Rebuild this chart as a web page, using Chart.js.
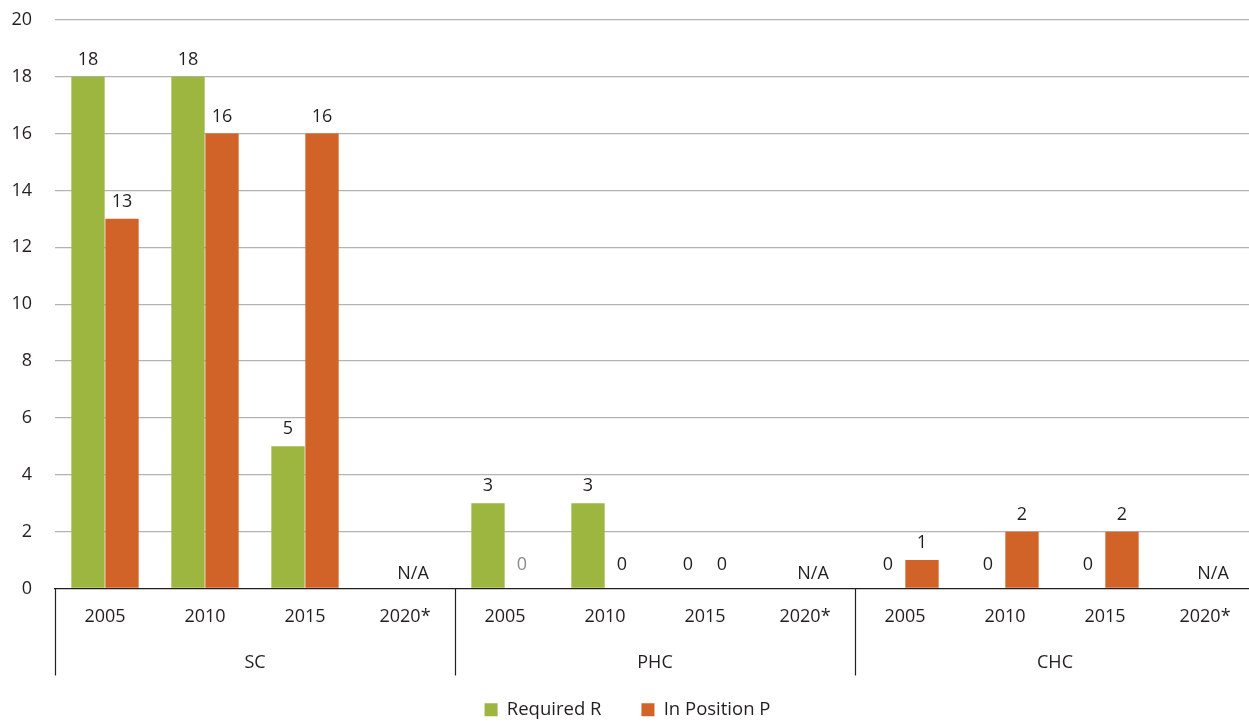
<!DOCTYPE html>
<html>
<head>
<meta charset="utf-8">
<title>Required vs In Position</title>
<script src="https://cdn.jsdelivr.net/npm/chart.js@4/dist/chart.umd.min.js"></script>
<style>
  html, body { margin: 0; padding: 0; background: #ffffff; overflow: hidden; }
  #wrap { width: 1257px; height: 729px; }
</style>
</head>
<body>
<div id="wrap"><canvas id="c" width="1257" height="729"></canvas></div>
<script>
// Facility groups and the survey years inside each group
const groups = ['SC', 'PHC', 'CHC'];
const years = ['2005', '2010', '2015', '2020*'];

// Staff counts per group/year (null = not available)
const required   = [18, 18, 5, null,   3, 3, 0, null,   0, 0, 0, null];
const inPosition = [13, 16, 16, null,  0, 0, 0, null,   1, 2, 2, null];

const seriesNames = ['Required R', 'In Position P'];
const missingText = 'N/A';

const TEXT = '#231f20';
const FONT = '"Open Sans", "Noto Sans", sans-serif';

const categories = [];
groups.forEach(g => years.forEach(y => categories.push(y)));

// value labels above bars, plus N/A markers for empty categories
const valueLabels = {
  id: 'valueLabels',
  afterDatasetsDraw(chart) {
    const ctx = chart.ctx;
    ctx.save();
    ctx.font = '18px ' + FONT;
    ctx.textAlign = 'center';
    ctx.textBaseline = 'middle';
    chart.data.datasets.forEach((ds, di) => {
      const meta = chart.getDatasetMeta(di);
      meta.data.forEach((el, i) => {
        const v = ds.data[i];
        if (v === null || v === undefined) return;
        const off = v === 0 ? 24 : 17;
        const muted = (ds.mutedZero || []).includes(i);
        ctx.fillStyle = muted ? '#8c8c8c' : TEXT;
        ctx.fillText(String(v), el.x, el.y - off);
      });
    });
    // N/A where neither series has a value
    const xs = chart.scales.x, ys = chart.scales.y;
    categories.forEach((c, i) => {
      const empty = chart.data.datasets.every(ds => ds.data[i] === null);
      if (!empty) return;
      ctx.fillStyle = TEXT;
      ctx.fillText(missingText, xs.getPixelForValue(i) + 8, ys.getPixelForValue(0) - 15);
    });
    ctx.restore();
  }
};

// second row of category labels with group separators
const groupAxis = {
  id: 'groupAxis',
  afterDraw(chart) {
    const ctx = chart.ctx;
    const area = chart.chartArea;
    const per = years.length;
    const step = (area.right - area.left) / categories.length;
    const top = area.bottom;
    const bottom = area.bottom + 87;
    ctx.save();
    ctx.strokeStyle = TEXT;
    ctx.lineWidth = 1.2;
    for (let g = 0; g <= groups.length; g++) {
      const x = Math.round(area.left + g * per * step) + 0.5;
      ctx.beginPath();
      ctx.moveTo(x, top);
      ctx.lineTo(x, bottom);
      ctx.stroke();
    }
    ctx.font = '18px ' + FONT;
    ctx.fillStyle = TEXT;
    ctx.textAlign = 'center';
    ctx.textBaseline = 'middle';
    groups.forEach((g, gi) => {
      const cx = area.left + (gi * per + per / 2) * step;
      ctx.fillText(g, cx, top + 74);
    });
    ctx.restore();
  }
};

new Chart(document.getElementById('c'), {
  type: 'bar',
  data: {
    labels: categories,
    datasets: [
      {
        label: seriesNames[0],
        data: required,
        backgroundColor: '#9cb640',
        categoryPercentage: 0.68,
        barPercentage: 0.98
      },
      {
        label: seriesNames[1],
        data: inPosition,
        backgroundColor: '#d16228',
        categoryPercentage: 0.68,
        barPercentage: 0.98,
        mutedZero: [4]
      }
    ]
  },
  options: {
    responsive: false,
    animation: false,
    layout: { padding: { top: 0, right: 2, left: 0, bottom: 0 } },
    plugins: {
      tooltip: { enabled: false },
      legend: {
        position: 'bottom',
        labels: {
          color: TEXT,
          font: { family: FONT, size: 18.5 },
          boxWidth: 13,
          boxHeight: 13,
          padding: 40
        }
      }
    },
    scales: {
      x: {
        grid: { display: false, drawTicks: false },
        border: { display: true, color: TEXT, width: 1.3 },
        ticks: {
          color: TEXT,
          font: { family: FONT, size: 18 },
          padding: 18,
          maxRotation: 0,
          autoSkip: false
        },
        afterFit(scale) { scale.height = 72; }
      },
      y: {
        min: 0,
        max: 20,
        border: { display: false },
        grid: {
          drawTicks: true,
          tickLength: 14,
          tickColor: 'rgba(0,0,0,0)',
          lineWidth: 1.3,
          color: ctx => ctx.tick && ctx.tick.value === 0 ? 'rgba(0,0,0,0)' : '#b3b3b3'
        },
        ticks: {
          stepSize: 2,
          color: TEXT,
          font: { family: FONT, size: 18 },
          padding: 9
        },
        afterFit(scale) { scale.width = 55; }
      }
    }
  },
  plugins: [valueLabels, groupAxis]
});
</script>
</body>
</html>
